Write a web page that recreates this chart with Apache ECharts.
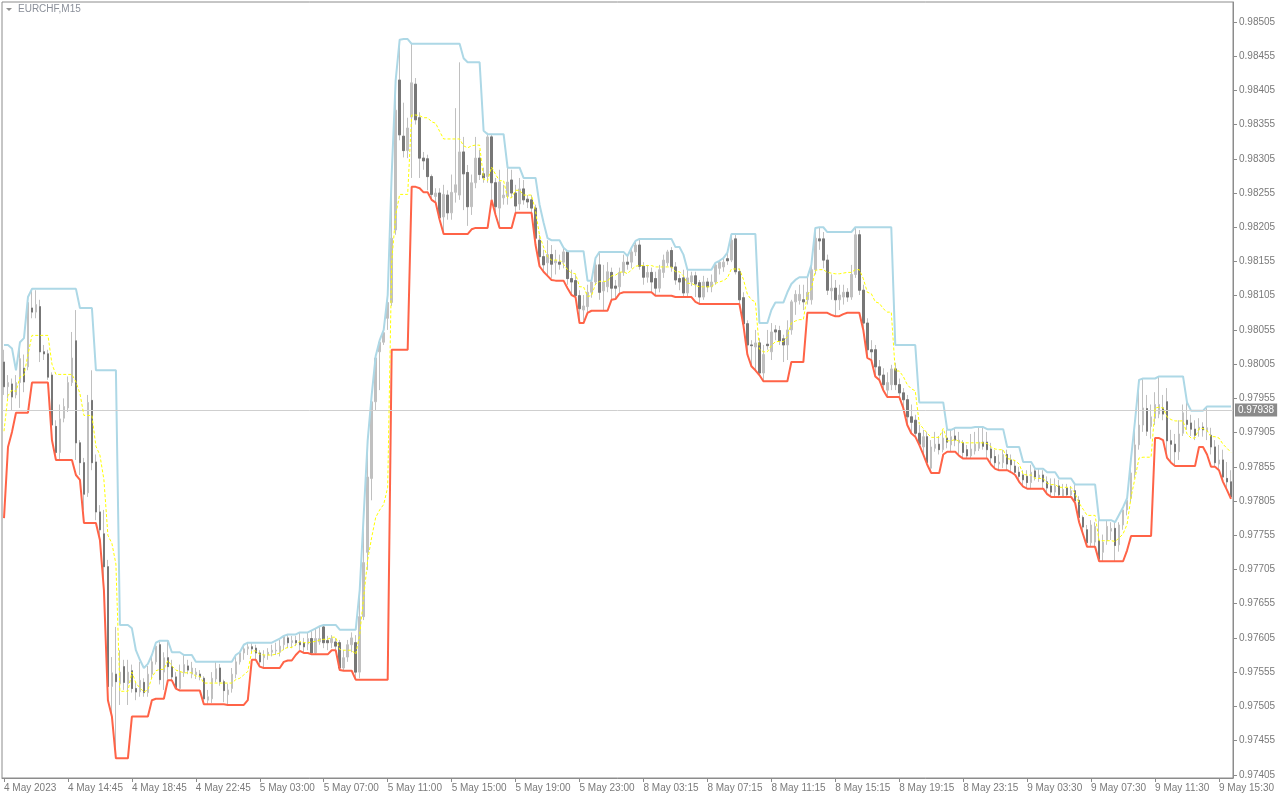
<!DOCTYPE html>
<html><head><meta charset="utf-8">
<script src="https://cdn.jsdelivr.net/npm/echarts@6/dist/echarts.min.js"></script>
<style>html,body{margin:0;padding:0;background:#fff}#c{width:1280px;height:800px}</style>
</head><body><div id="c"></div>
<script>
const chartTitle = 'EURCHF,M15';
const tickLabels = ['4 May 2023','4 May 14:45','4 May 18:45','4 May 22:45','5 May 03:00','5 May 07:00','5 May 11:00','5 May 15:00','5 May 19:00','5 May 23:00','8 May 03:15','8 May 07:15','8 May 11:15','8 May 15:15','8 May 19:15','8 May 23:15','9 May 03:30','9 May 07:30','9 May 11:30','9 May 15:30'];
const yTicks = [0.97405,0.97455,0.97505,0.97555,0.97605,0.97655,0.97705,0.97755,0.97805,0.97855,0.97905,0.97955,0.98005,0.98055,0.98105,0.98155,0.98205,0.98255,0.98305,0.98355,0.98405,0.98455,0.98505];
const bidPrice = 0.97938;

const opens = [0.98008,0.97972,0.97976,0.97960,0.97978,0.97999,0.98001,0.98087,0.98081,0.98089,
0.98023,0.98020,0.97989,0.97914,0.97876,0.97926,0.97941,0.97978,0.98039,0.97890,
0.97861,0.97817,0.97952,0.97862,0.97789,0.97757,0.97709,0.97534,0.97552,0.97538,
0.97563,0.97538,0.97557,0.97531,0.97526,0.97540,0.97525,0.97552,0.97570,0.97595,
0.97555,0.97576,0.97563,0.97548,0.97531,0.97554,0.97564,0.97552,0.97551,0.97552,
0.97546,0.97514,0.97516,0.97545,0.97561,0.97541,0.97522,0.97531,0.97552,0.97570,
0.97583,0.97589,0.97592,0.97590,0.97583,0.97576,0.97580,0.97584,0.97586,0.97584,
0.97595,0.97605,0.97598,0.97601,0.97598,0.97598,0.97596,0.97604,0.97583,0.97599,
0.97621,0.97601,0.97598,0.97599,0.97598,0.97561,0.97577,0.97595,0.97598,0.97555,
0.97636,0.97730,0.97838,0.97950,0.98023,0.98037,0.98072,0.98095,0.98201,0.98420,
0.98338,0.98317,0.98366,0.98414,0.98365,0.98306,0.98305,0.98279,0.98250,0.98255,
0.98220,0.98252,0.98226,0.98256,0.98252,0.98315,0.98285,0.98235,0.98270,0.98306,
0.98283,0.98279,0.98337,0.98270,0.98233,0.98248,0.98250,0.98274,0.98255,0.98239,
0.98261,0.98246,0.98245,0.98233,0.98186,0.98162,0.98153,0.98165,0.98153,0.98154,
0.98154,0.98169,0.98130,0.98127,0.98105,0.98084,0.98089,0.98110,0.98125,0.98150,
0.98112,0.98118,0.98139,0.98119,0.98118,0.98139,0.98154,0.98154,0.98169,0.98179,
0.98148,0.98132,0.98139,0.98130,0.98116,0.98139,0.98153,0.98171,0.98147,0.98130,
0.98131,0.98109,0.98125,0.98134,0.98124,0.98103,0.98125,0.98118,0.98125,0.98145,
0.98147,0.98159,0.98157,0.98188,0.98140,0.98102,0.98064,0.98033,0.98030,0.98036,
0.97992,0.98034,0.98023,0.98055,0.98054,0.98042,0.98033,0.98055,0.98096,0.98098,
0.98099,0.98099,0.98099,0.98143,0.98188,0.98188,0.98157,0.98112,0.98116,0.98099,
0.98103,0.98110,0.98103,0.98136,0.98194,0.98113,0.98065,0.98026,0.98026,0.98001,
0.97989,0.97967,0.97975,0.97998,0.97975,0.97963,0.97953,0.97928,0.97923,0.97904,
0.97884,0.97899,0.97853,0.97882,0.97888,0.97880,0.97897,0.97887,0.97900,0.97890,
0.97890,0.97880,0.97871,0.97878,0.97882,0.97891,0.97891,0.97881,0.97870,0.97859,
0.97861,0.97873,0.97865,0.97856,0.97847,0.97843,0.97841,0.97832,0.97849,0.97838,
0.97843,0.97833,0.97827,0.97818,0.97827,0.97811,0.97824,0.97814,0.97820,0.97806,
0.97781,0.97763,0.97744,0.97745,0.97747,0.97730,0.97747,0.97761,0.97765,0.97741,
0.97770,0.97792,0.97809,0.97846,0.97887,0.97916,0.97940,0.97914,0.97926,0.97932,
0.97941,0.97950,0.97893,0.97888,0.97877,0.97904,0.97923,0.97919,0.97910,0.97909,
0.97913,0.97906,0.97901,0.97884,0.97859,0.97865,0.97838,0.97833];

const highs = [0.98026,0.97989,0.97984,0.97989,0.98033,0.98019,0.98103,0.98115,0.98113,0.98099,
0.98033,0.98026,0.97993,0.97923,0.97946,0.97955,0.97987,0.98052,0.98084,0.97894,
0.97868,0.97960,0.97996,0.97873,0.97799,0.97792,0.97719,0.97577,0.97621,0.97587,
0.97573,0.97573,0.97566,0.97540,0.97570,0.97546,0.97564,0.97578,0.97596,0.97599,
0.97584,0.97601,0.97573,0.97555,0.97566,0.97580,0.97573,0.97570,0.97561,0.97558,
0.97549,0.97529,0.97555,0.97570,0.97567,0.97544,0.97538,0.97561,0.97580,0.97584,
0.97595,0.97598,0.97598,0.97595,0.97587,0.97587,0.97590,0.97595,0.97598,0.97602,
0.97608,0.97609,0.97608,0.97608,0.97613,0.97605,0.97613,0.97616,0.97619,0.97622,
0.97624,0.97608,0.97609,0.97605,0.97602,0.97587,0.97602,0.97613,0.97609,0.97668,
0.97777,0.97894,0.97960,0.98017,0.98040,0.98055,0.98106,0.98282,0.98420,0.98479,
0.98387,0.98365,0.98473,0.98423,0.98373,0.98315,0.98311,0.98282,0.98262,0.98262,
0.98267,0.98259,0.98282,0.98379,0.98446,0.98337,0.98296,0.98282,0.98337,0.98318,
0.98292,0.98343,0.98341,0.98277,0.98289,0.98267,0.98292,0.98289,0.98267,0.98277,
0.98274,0.98252,0.98252,0.98238,0.98194,0.98172,0.98186,0.98179,0.98172,0.98165,
0.98175,0.98170,0.98143,0.98136,0.98113,0.98106,0.98121,0.98127,0.98160,0.98169,
0.98150,0.98154,0.98146,0.98128,0.98146,0.98165,0.98163,0.98175,0.98185,0.98188,
0.98154,0.98150,0.98146,0.98140,0.98150,0.98165,0.98172,0.98176,0.98154,0.98136,
0.98143,0.98143,0.98140,0.98140,0.98128,0.98134,0.98131,0.98136,0.98153,0.98156,
0.98160,0.98168,0.98195,0.98195,0.98145,0.98110,0.98069,0.98040,0.98055,0.98043,
0.98033,0.98055,0.98065,0.98062,0.98061,0.98048,0.98069,0.98099,0.98113,0.98121,
0.98121,0.98132,0.98150,0.98204,0.98205,0.98198,0.98165,0.98136,0.98128,0.98121,
0.98121,0.98116,0.98150,0.98205,0.98201,0.98121,0.98072,0.98040,0.98033,0.98011,
0.97999,0.97993,0.98004,0.98007,0.97984,0.97970,0.97960,0.97946,0.97931,0.97916,
0.97909,0.97906,0.97894,0.97906,0.97900,0.97907,0.97909,0.97909,0.97912,0.97906,
0.97894,0.97887,0.97903,0.97906,0.97912,0.97913,0.97906,0.97890,0.97880,0.97873,
0.97880,0.97880,0.97873,0.97865,0.97855,0.97850,0.97850,0.97858,0.97852,0.97852,
0.97850,0.97841,0.97838,0.97838,0.97836,0.97830,0.97830,0.97827,0.97829,0.97812,
0.97784,0.97770,0.97777,0.97774,0.97777,0.97756,0.97777,0.97774,0.97774,0.97774,
0.97796,0.97809,0.97868,0.97923,0.97982,0.97984,0.97960,0.97946,0.97964,0.97987,
0.97960,0.97970,0.97909,0.97903,0.97923,0.97946,0.97949,0.97931,0.97923,0.97926,
0.97920,0.97943,0.97912,0.97894,0.97887,0.97880,0.97862,0.97850];

const lows = [0.97960,0.97955,0.97938,0.97955,0.97941,0.97964,0.97996,0.98072,0.98072,0.98008,
0.98011,0.97982,0.97909,0.97868,0.97865,0.97920,0.97935,0.97973,0.97865,0.97843,
0.97792,0.97811,0.97850,0.97777,0.97748,0.97675,0.97514,0.97490,0.97441,0.97507,
0.97529,0.97507,0.97525,0.97514,0.97519,0.97519,0.97519,0.97546,0.97566,0.97537,
0.97529,0.97544,0.97543,0.97531,0.97528,0.97548,0.97552,0.97546,0.97545,0.97543,
0.97508,0.97508,0.97510,0.97540,0.97535,0.97511,0.97507,0.97525,0.97546,0.97566,
0.97573,0.97580,0.97584,0.97573,0.97563,0.97561,0.97573,0.97578,0.97580,0.97578,
0.97587,0.97590,0.97590,0.97593,0.97587,0.97584,0.97587,0.97581,0.97581,0.97595,
0.97590,0.97587,0.97590,0.97587,0.97558,0.97557,0.97570,0.97584,0.97544,0.97546,
0.97631,0.97704,0.97806,0.97938,0.97967,0.98033,0.98055,0.98090,0.98194,0.98332,
0.98307,0.98306,0.98277,0.98355,0.98277,0.98289,0.98259,0.98245,0.98241,0.98216,
0.98195,0.98216,0.98216,0.98241,0.98245,0.98230,0.98207,0.98223,0.98262,0.98274,
0.98270,0.98270,0.98245,0.98223,0.98204,0.98238,0.98238,0.98248,0.98226,0.98230,
0.98238,0.98233,0.98226,0.98179,0.98148,0.98140,0.98134,0.98131,0.98136,0.98143,
0.98145,0.98121,0.98106,0.98103,0.98068,0.98069,0.98081,0.98102,0.98121,0.98099,
0.98084,0.98110,0.98099,0.98100,0.98108,0.98134,0.98143,0.98145,0.98163,0.98143,
0.98121,0.98124,0.98110,0.98105,0.98110,0.98131,0.98148,0.98140,0.98121,0.98113,
0.98103,0.98103,0.98119,0.98103,0.98093,0.98099,0.98110,0.98110,0.98121,0.98136,
0.98140,0.98150,0.98154,0.98136,0.98093,0.98062,0.98019,0.98003,0.97996,0.97989,
0.97980,0.98026,0.98011,0.98040,0.98033,0.98008,0.98011,0.98048,0.98077,0.98092,
0.98084,0.98092,0.98092,0.98136,0.98172,0.98145,0.98106,0.98099,0.98075,0.98084,
0.98092,0.98096,0.98099,0.98131,0.98106,0.98055,0.98014,0.98011,0.97987,0.97982,
0.97967,0.97957,0.97967,0.97967,0.97957,0.97941,0.97916,0.97904,0.97899,0.97887,
0.97873,0.97858,0.97846,0.97877,0.97873,0.97876,0.97882,0.97877,0.97885,0.97871,
0.97867,0.97867,0.97867,0.97873,0.97878,0.97880,0.97868,0.97858,0.97852,0.97850,
0.97853,0.97850,0.97847,0.97843,0.97833,0.97826,0.97823,0.97824,0.97835,0.97833,
0.97823,0.97815,0.97811,0.97812,0.97811,0.97811,0.97811,0.97811,0.97802,0.97774,
0.97756,0.97738,0.97739,0.97738,0.97717,0.97717,0.97741,0.97748,0.97717,0.97731,
0.97763,0.97784,0.97803,0.97838,0.97880,0.97906,0.97900,0.97896,0.97916,0.97926,
0.97923,0.97868,0.97861,0.97856,0.97865,0.97900,0.97909,0.97900,0.97894,0.97899,
0.97899,0.97894,0.97873,0.97855,0.97850,0.97833,0.97821,0.97808];

const closes = [0.97972,0.97978,0.97957,0.97978,0.98013,0.97979,0.98095,0.98081,0.98092,0.98023,
0.98020,0.97986,0.97916,0.97876,0.97925,0.97943,0.97978,0.98014,0.97890,0.97861,
0.97815,0.97949,0.97861,0.97789,0.97763,0.97709,0.97534,0.97554,0.97541,0.97555,
0.97540,0.97555,0.97531,0.97526,0.97543,0.97525,0.97552,0.97570,0.97593,0.97544,
0.97576,0.97563,0.97548,0.97532,0.97555,0.97566,0.97558,0.97561,0.97555,0.97548,
0.97516,0.97519,0.97546,0.97560,0.97541,0.97528,0.97529,0.97552,0.97570,0.97583,
0.97589,0.97592,0.97589,0.97583,0.97570,0.97580,0.97584,0.97587,0.97587,0.97593,
0.97607,0.97598,0.97601,0.97598,0.97595,0.97592,0.97604,0.97583,0.97604,0.97604,
0.97598,0.97598,0.97604,0.97593,0.97561,0.97576,0.97595,0.97605,0.97555,0.97636,
0.97715,0.97840,0.97950,0.98014,0.98037,0.98051,0.98095,0.98189,0.98376,0.98340,
0.98317,0.98350,0.98416,0.98362,0.98306,0.98302,0.98279,0.98253,0.98255,0.98219,
0.98253,0.98226,0.98256,0.98267,0.98315,0.98283,0.98235,0.98270,0.98306,0.98282,
0.98277,0.98337,0.98270,0.98235,0.98271,0.98252,0.98271,0.98255,0.98236,0.98261,
0.98245,0.98242,0.98233,0.98189,0.98162,0.98150,0.98165,0.98151,0.98156,0.98151,
0.98169,0.98130,0.98125,0.98105,0.98086,0.98090,0.98110,0.98125,0.98150,0.98110,
0.98125,0.98140,0.98116,0.98116,0.98139,0.98154,0.98151,0.98169,0.98179,0.98148,
0.98132,0.98139,0.98125,0.98116,0.98143,0.98157,0.98169,0.98147,0.98128,0.98125,
0.98109,0.98131,0.98134,0.98122,0.98103,0.98125,0.98118,0.98125,0.98150,0.98154,
0.98154,0.98156,0.98186,0.98140,0.98099,0.98064,0.98033,0.98032,0.98036,0.97992,
0.98019,0.98032,0.98052,0.98052,0.98039,0.98033,0.98055,0.98096,0.98107,0.98107,
0.98096,0.98110,0.98143,0.98189,0.98185,0.98157,0.98113,0.98116,0.98099,0.98106,
0.98110,0.98103,0.98136,0.98194,0.98113,0.98065,0.98026,0.98023,0.98001,0.97989,
0.97975,0.97978,0.97998,0.97975,0.97963,0.97953,0.97928,0.97920,0.97904,0.97888,
0.97899,0.97861,0.97884,0.97888,0.97880,0.97897,0.97891,0.97899,0.97894,0.97894,
0.97876,0.97871,0.97881,0.97888,0.97891,0.97885,0.97880,0.97868,0.97861,0.97862,
0.97873,0.97859,0.97858,0.97847,0.97841,0.97836,0.97832,0.97847,0.97840,0.97843,
0.97833,0.97824,0.97818,0.97827,0.97814,0.97822,0.97814,0.97820,0.97805,0.97781,
0.97767,0.97744,0.97770,0.97768,0.97720,0.97745,0.97768,0.97765,0.97740,0.97770,
0.97792,0.97806,0.97846,0.97887,0.97916,0.97941,0.97907,0.97928,0.97946,0.97946,
0.97932,0.97893,0.97888,0.97877,0.97903,0.97934,0.97917,0.97910,0.97901,0.97913,
0.97909,0.97912,0.97884,0.97861,0.97865,0.97840,0.97833,0.97811];

const upperBand = [0.98033,0.98033,0.98028,0.97996,0.98037,0.98043,0.98103,0.98115,0.98115,0.98115,
0.98115,0.98115,0.98115,0.98115,0.98115,0.98115,0.98115,0.98115,0.98115,0.98087,
0.98087,0.98087,0.98087,0.97996,0.97996,0.97996,0.97996,0.97996,0.97996,0.97624,
0.97624,0.97624,0.97619,0.97587,0.97573,0.97561,0.97567,0.97580,0.97598,0.97601,
0.97601,0.97601,0.97584,0.97584,0.97584,0.97580,0.97580,0.97580,0.97570,0.97570,
0.97570,0.97570,0.97570,0.97570,0.97570,0.97570,0.97570,0.97570,0.97580,0.97584,
0.97595,0.97598,0.97598,0.97598,0.97598,0.97598,0.97598,0.97598,0.97601,0.97604,
0.97608,0.97610,0.97610,0.97610,0.97613,0.97613,0.97613,0.97616,0.97619,0.97622,
0.97624,0.97624,0.97624,0.97624,0.97617,0.97617,0.97617,0.97617,0.97617,0.97675,
0.97785,0.97894,0.97960,0.98017,0.98040,0.98055,0.98106,0.98282,0.98420,0.98479,
0.98480,0.98480,0.98473,0.98473,0.98473,0.98473,0.98473,0.98473,0.98473,0.98473,
0.98473,0.98473,0.98473,0.98473,0.98473,0.98452,0.98446,0.98446,0.98446,0.98446,
0.98346,0.98341,0.98341,0.98341,0.98341,0.98341,0.98292,0.98292,0.98292,0.98292,
0.98277,0.98277,0.98277,0.98277,0.98238,0.98212,0.98189,0.98186,0.98186,0.98186,
0.98175,0.98170,0.98170,0.98170,0.98170,0.98170,0.98127,0.98127,0.98160,0.98169,
0.98169,0.98169,0.98169,0.98169,0.98169,0.98169,0.98163,0.98175,0.98185,0.98188,
0.98188,0.98188,0.98188,0.98188,0.98188,0.98188,0.98188,0.98188,0.98176,0.98176,
0.98165,0.98143,0.98143,0.98143,0.98143,0.98143,0.98143,0.98143,0.98153,0.98156,
0.98160,0.98168,0.98195,0.98195,0.98195,0.98195,0.98195,0.98195,0.98195,0.98065,
0.98065,0.98065,0.98084,0.98095,0.98095,0.98095,0.98110,0.98122,0.98128,0.98132,
0.98132,0.98132,0.98150,0.98204,0.98205,0.98205,0.98198,0.98198,0.98198,0.98198,
0.98198,0.98198,0.98198,0.98205,0.98205,0.98205,0.98205,0.98205,0.98205,0.98205,
0.98205,0.98205,0.98205,0.98033,0.98033,0.98033,0.98033,0.98033,0.98033,0.97949,
0.97949,0.97949,0.97949,0.97949,0.97949,0.97949,0.97909,0.97909,0.97912,0.97912,
0.97912,0.97912,0.97912,0.97913,0.97913,0.97913,0.97910,0.97910,0.97910,0.97910,
0.97910,0.97884,0.97884,0.97884,0.97884,0.97862,0.97862,0.97862,0.97852,0.97852,
0.97852,0.97847,0.97847,0.97847,0.97838,0.97838,0.97838,0.97838,0.97829,0.97829,
0.97829,0.97829,0.97829,0.97829,0.97777,0.97777,0.97777,0.97777,0.97774,0.97785,
0.97796,0.97809,0.97868,0.97923,0.97982,0.97984,0.97984,0.97984,0.97984,0.97987,
0.97987,0.97987,0.97987,0.97987,0.97987,0.97987,0.97949,0.97937,0.97937,0.97937,
0.97937,0.97943,0.97943,0.97943,0.97943,0.97943,0.97943,0.97943];

const lowerBand = [0.97780,0.97884,0.97906,0.97934,0.97934,0.97934,0.97934,0.97978,0.97978,0.97978,
0.97978,0.97978,0.97894,0.97865,0.97865,0.97865,0.97865,0.97865,0.97843,0.97836,
0.97773,0.97773,0.97773,0.97773,0.97748,0.97675,0.97514,0.97490,0.97429,0.97429,
0.97429,0.97429,0.97490,0.97490,0.97490,0.97490,0.97490,0.97514,0.97516,0.97516,
0.97516,0.97543,0.97543,0.97531,0.97528,0.97528,0.97528,0.97528,0.97528,0.97528,
0.97508,0.97508,0.97508,0.97508,0.97508,0.97508,0.97507,0.97507,0.97507,0.97507,
0.97507,0.97514,0.97573,0.97573,0.97563,0.97561,0.97561,0.97561,0.97561,0.97561,
0.97570,0.97572,0.97572,0.97580,0.97586,0.97583,0.97583,0.97581,0.97581,0.97581,
0.97581,0.97581,0.97587,0.97587,0.97558,0.97557,0.97557,0.97557,0.97544,0.97544,
0.97544,0.97544,0.97544,0.97544,0.97544,0.97544,0.97544,0.98026,0.98026,0.98026,
0.98026,0.98026,0.98264,0.98264,0.98262,0.98256,0.98256,0.98245,0.98241,0.98216,
0.98195,0.98195,0.98195,0.98195,0.98195,0.98195,0.98195,0.98202,0.98204,0.98204,
0.98204,0.98204,0.98245,0.98223,0.98204,0.98204,0.98204,0.98204,0.98226,0.98226,
0.98226,0.98226,0.98226,0.98179,0.98148,0.98140,0.98134,0.98128,0.98127,0.98127,
0.98127,0.98116,0.98106,0.98103,0.98065,0.98065,0.98080,0.98083,0.98083,0.98083,
0.98083,0.98083,0.98099,0.98100,0.98108,0.98110,0.98110,0.98110,0.98110,0.98110,
0.98110,0.98110,0.98110,0.98105,0.98105,0.98105,0.98105,0.98105,0.98103,0.98103,
0.98103,0.98103,0.98103,0.98096,0.98093,0.98093,0.98093,0.98093,0.98093,0.98093,
0.98093,0.98093,0.98093,0.98093,0.98093,0.98062,0.98019,0.98002,0.97996,0.97989,
0.97980,0.97980,0.97980,0.97980,0.97980,0.97980,0.97980,0.98008,0.98008,0.98008,
0.98008,0.98080,0.98080,0.98080,0.98080,0.98080,0.98080,0.98077,0.98075,0.98075,
0.98078,0.98080,0.98080,0.98080,0.98080,0.98055,0.98014,0.98011,0.97987,0.97982,
0.97967,0.97957,0.97957,0.97957,0.97957,0.97941,0.97916,0.97904,0.97899,0.97887,
0.97873,0.97858,0.97846,0.97846,0.97846,0.97873,0.97877,0.97877,0.97877,0.97871,
0.97867,0.97867,0.97867,0.97867,0.97867,0.97867,0.97867,0.97858,0.97852,0.97850,
0.97850,0.97850,0.97847,0.97843,0.97833,0.97826,0.97823,0.97823,0.97823,0.97823,
0.97823,0.97815,0.97811,0.97811,0.97811,0.97811,0.97811,0.97811,0.97802,0.97774,
0.97756,0.97738,0.97738,0.97738,0.97717,0.97717,0.97717,0.97717,0.97717,0.97717,
0.97717,0.97733,0.97754,0.97754,0.97754,0.97754,0.97754,0.97754,0.97897,0.97897,
0.97894,0.97868,0.97861,0.97856,0.97856,0.97856,0.97856,0.97856,0.97856,0.97884,
0.97884,0.97873,0.97855,0.97855,0.97850,0.97833,0.97821,0.97808];

const middleBand = [0.97907,0.97959,0.97967,0.97965,0.97986,0.97989,0.98019,0.98047,0.98047,0.98047,
0.98047,0.98047,0.98005,0.97990,0.97990,0.97990,0.97990,0.97990,0.97979,0.97962,
0.97930,0.97930,0.97930,0.97885,0.97872,0.97836,0.97755,0.97743,0.97713,0.97527,
0.97527,0.97527,0.97555,0.97539,0.97532,0.97526,0.97529,0.97547,0.97557,0.97559,
0.97559,0.97572,0.97564,0.97558,0.97556,0.97554,0.97554,0.97554,0.97549,0.97549,
0.97539,0.97539,0.97539,0.97539,0.97539,0.97539,0.97539,0.97539,0.97544,0.97546,
0.97551,0.97556,0.97586,0.97586,0.97581,0.97580,0.97580,0.97580,0.97581,0.97583,
0.97589,0.97591,0.97591,0.97595,0.97600,0.97598,0.97598,0.97599,0.97600,0.97602,
0.97603,0.97603,0.97606,0.97606,0.97588,0.97587,0.97587,0.97587,0.97581,0.97610,
0.97665,0.97719,0.97752,0.97781,0.97792,0.97800,0.97825,0.98154,0.98223,0.98253,
0.98253,0.98253,0.98369,0.98369,0.98368,0.98365,0.98365,0.98359,0.98357,0.98345,
0.98334,0.98334,0.98334,0.98334,0.98334,0.98324,0.98321,0.98324,0.98325,0.98325,
0.98275,0.98273,0.98293,0.98282,0.98273,0.98273,0.98248,0.98248,0.98259,0.98259,
0.98252,0.98252,0.98252,0.98228,0.98193,0.98176,0.98162,0.98157,0.98157,0.98157,
0.98151,0.98143,0.98138,0.98137,0.98118,0.98118,0.98104,0.98105,0.98122,0.98126,
0.98126,0.98126,0.98134,0.98135,0.98139,0.98140,0.98137,0.98143,0.98148,0.98149,
0.98149,0.98149,0.98149,0.98147,0.98147,0.98147,0.98147,0.98147,0.98140,0.98140,
0.98134,0.98123,0.98123,0.98120,0.98118,0.98118,0.98118,0.98118,0.98123,0.98125,
0.98127,0.98131,0.98144,0.98144,0.98144,0.98129,0.98107,0.98099,0.98096,0.98027,
0.98023,0.98023,0.98032,0.98038,0.98038,0.98038,0.98045,0.98065,0.98068,0.98070,
0.98070,0.98106,0.98115,0.98142,0.98143,0.98143,0.98139,0.98138,0.98137,0.98137,
0.98138,0.98139,0.98139,0.98143,0.98143,0.98130,0.98110,0.98108,0.98096,0.98094,
0.98086,0.98081,0.98081,0.97995,0.97995,0.97987,0.97975,0.97969,0.97966,0.97918,
0.97911,0.97904,0.97898,0.97898,0.97898,0.97911,0.97893,0.97893,0.97895,0.97892,
0.97890,0.97890,0.97890,0.97890,0.97890,0.97890,0.97889,0.97884,0.97881,0.97880,
0.97880,0.97867,0.97866,0.97864,0.97859,0.97844,0.97843,0.97843,0.97838,0.97838,
0.97838,0.97831,0.97829,0.97829,0.97825,0.97825,0.97825,0.97825,0.97816,0.97802,
0.97793,0.97784,0.97784,0.97784,0.97747,0.97747,0.97747,0.97747,0.97746,0.97751,
0.97757,0.97771,0.97811,0.97839,0.97868,0.97869,0.97869,0.97869,0.97941,0.97942,
0.97941,0.97928,0.97924,0.97922,0.97922,0.97922,0.97903,0.97897,0.97897,0.97911,
0.97911,0.97908,0.97899,0.97899,0.97897,0.97888,0.97882,0.97876];

const BARS_PER_LABEL = 16;
const categories = opens.map((_, i) => (i % BARS_PER_LABEL === 0 ? tickLabels[i / BARS_PER_LABEL] : ''));
const allCandles = opens.map((o, i) => [o, closes[i], lows[i], highs[i]]);
const bearBodies = opens.map((o, i) => (closes[i] < o ? [o, closes[i], closes[i], o] : ['-', '-', '-', '-']));
const showEvery = (i) => i % BARS_PER_LABEL === 0;

const chart = echarts.init(document.getElementById('c'), null, { renderer: 'canvas' });
const axisGray = '#8c8c8c';
const textGray = '#7a7a7a';
const fontFam = 'Liberation Sans, Arial, sans-serif';

chart.setOption({
  animation: false,
  backgroundColor: '#ffffff',
  grid: { left: 2, top: 2, right: 47, bottom: 22, show: true, borderColor: axisGray, borderWidth: 1, backgroundColor: 'transparent' },
  graphic: [
    { type: 'polygon', shape: { points: [[6, 8], [12, 8], [9, 11]] }, style: { fill: '#909090' } },
    { type: 'text', left: 18, top: 4, style: { text: chartTitle, fill: '#8a8f99', font: '10px ' + fontFam } }
  ],
  xAxis: {
    type: 'category', data: categories, boundaryGap: true,
    axisLine: { show: true, lineStyle: { color: axisGray, width: 1 } },
    axisTick: { show: true, interval: showEvery, alignWithLabel: true, length: 4, lineStyle: { color: axisGray } },
    axisLabel: { interval: showEvery, align: 'left', margin: 5, color: textGray, fontSize: 10, fontFamily: fontFam, hideOverlap: false },
    splitLine: { show: false }
  },
  yAxis: {
    type: 'value', position: 'right', scale: true, min: 0.974003, max: 0.985341,
    axisLine: { show: true, lineStyle: { color: axisGray, width: 1 } },
    axisTick: { show: true, customValues: yTicks, length: 4, lineStyle: { color: axisGray } },
    axisLabel: { customValues: yTicks, formatter: (v) => v.toFixed(5), margin: 6, color: textGray, fontSize: 10, fontFamily: fontFam },
    splitLine: { show: false }
  },
  series: [
    {
      name: 'bid', type: 'line', data: [], symbol: 'none', z: 1,
      markLine: {
        silent: true, symbol: ['none', 'none'], animation: false, precision: 5,
        data: [{ yAxis: bidPrice }],
        lineStyle: { color: '#cfcfcf', width: 1, type: 'solid' },
        label: { show: true, position: 'end', distance: 2, formatter: bidPrice.toFixed(5), color: '#ffffff', backgroundColor: '#8a8a8a', padding: [2, 3, 1, 3], fontSize: 10, fontFamily: fontFam }
      }
    },
    {
      name: 'candles', type: 'candlestick', data: allCandles, barWidth: 2, z: 2,
      itemStyle: { color: '#c0c0c0', color0: '#c0c0c0', borderColor: '#c0c0c0', borderColor0: '#c0c0c0', borderWidth: 1 }
    },
    {
      name: 'bear', type: 'candlestick', data: bearBodies, barWidth: 2, z: 3,
      itemStyle: { color: '#777777', color0: '#777777', borderColor: '#777777', borderColor0: '#777777', borderWidth: 1 }
    },
    { name: 'upper', type: 'line', data: upperBand, symbol: 'none', z: 4, lineStyle: { color: '#add8e6', width: 2 } },
    { name: 'lower', type: 'line', data: lowerBand, symbol: 'none', z: 4, lineStyle: { color: '#ff6347', width: 2 } },
    { name: 'middle', type: 'line', data: middleBand, symbol: 'none', z: 5, lineStyle: { color: '#ffff00', width: 1, type: [3, 2] } }
  ]
});
</script>
</body></html>
